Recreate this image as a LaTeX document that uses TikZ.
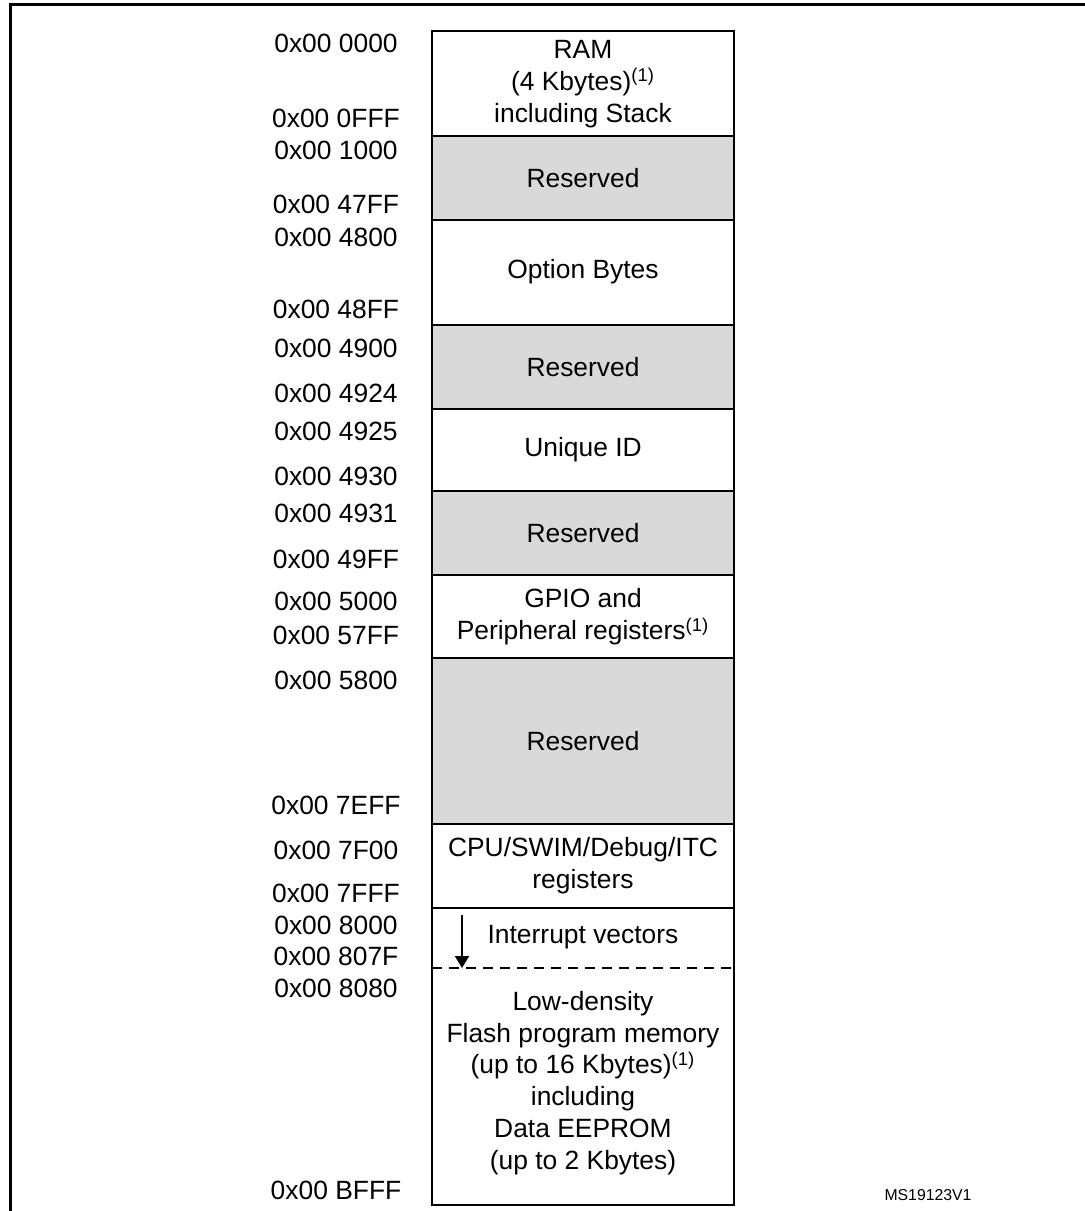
\documentclass[tikz,border=0pt]{standalone}
\usepackage{fontspec}
\setmainfont{Liberation Sans}
\usepackage{xcolor}
\usetikzlibrary{arrows.meta}
\definecolor{resgray}{RGB}{217, 217, 217}

\begin{document}
\begin{tikzpicture}[x=0.5pt, y=-0.5pt,
    blk/.style={draw=black, line width=1pt},
    addr/.style={font=\fontsize{13.2}{15.9}\selectfont, inner sep=0pt},
    lbl/.style={font=\fontsize{13.2}{15.9}\selectfont, align=center, inner sep=0pt}]
                \useasboundingbox (0,0) rectangle (1084,1211);

                % Frame
                \draw[line width=1.5pt] (10,1215) -- (10,4) -- (1088,4);

                % Memory blocks
                \draw[blk] (432,31) rectangle (734,136);
                \draw[blk, fill=resgray] (432,136) rectangle (734,220);
                \draw[blk] (432,220) rectangle (734,325);
                \draw[blk, fill=resgray] (432,325) rectangle (734,409);
                \draw[blk] (432,409) rectangle (734,491);
                \draw[blk, fill=resgray] (432,491) rectangle (734,575);
                \draw[blk] (432,575) rectangle (734,658);
                \draw[blk, fill=resgray] (432,658) rectangle (734,824);
                \draw[blk] (432,824) rectangle (734,908);
                \draw[blk] (432,908) rectangle (734,1205);
                \draw[line width=1pt, dash pattern=on 5pt off 3.5pt] (432,968) -- (734,968);

                % Block labels
                \node[lbl] (ram) at (583,84) {RAM\\(4 Kbytes)\textsuperscript{(1)}\\including Stack};
                \node[lbl] (resa) at (583,178) {Reserved};
                \node[lbl] (optb) at (583,272) {Option Bytes};
                \node[lbl] (resb) at (583,367) {Reserved};
                \node[lbl] (uid) at (583,450) {Unique ID};
                \node[lbl] (resc) at (583,533) {Reserved};
                \node[lbl] (gpio) at (583,617) {GPIO and\\Peripheral registers\textsuperscript{(1)}};
                \node[lbl] (resd) at (583,741) {Reserved};
                \node[lbl] (cpu) at (583,866) {CPU/SWIM/Debug/ITC\\registers};
                \node[lbl] (ivec) at (583,937) {Interrupt vectors};
                \node[lbl] (flash) at (583,1083) {Low-density\\Flash program memory\\(up to 16 Kbytes)\textsuperscript{(1)}\\including\\Data EEPROM\\(up to 2 Kbytes)};

                % Vector arrow
                \coordinate (ivtop) at (462,915);
                \coordinate (ivtip) at (462,968);
                \draw[line width=1pt, -{Triangle[width=7pt, length=6pt]}] (ivtop) -- (ivtip);

                % Addresses
                \node[addr] (a0000) at (336,43) {0x00 0000};
                \node[addr] (a0fff) at (336,118) {0x00 0FFF};
                \node[addr] (a1000) at (336,150) {0x00 1000};
                \node[addr] (a47ff) at (336,204) {0x00 47FF};
                \node[addr] (a4800) at (336,237) {0x00 4800};
                \node[addr] (a48ff) at (336,309) {0x00 48FF};
                \node[addr] (a4900) at (336,348) {0x00 4900};
                \node[addr] (a4924) at (336,393) {0x00 4924};
                \node[addr] (a4925) at (336,431) {0x00 4925};
                \node[addr] (a4930) at (336,476) {0x00 4930};
                \node[addr] (a4931) at (336,513) {0x00 4931};
                \node[addr] (a49ff) at (336,559) {0x00 49FF};
                \node[addr] (a5000) at (336,601) {0x00 5000};
                \node[addr] (a57ff) at (336,635) {0x00 57FF};
                \node[addr] (a5800) at (336,680) {0x00 5800};
                \node[addr] (a7eff) at (336,805) {0x00 7EFF};
                \node[addr] (a7f00) at (336,850) {0x00 7F00};
                \node[addr] (a7fff) at (336,893) {0x00 7FFF};
                \node[addr] (a8000) at (336,925) {0x00 8000};
                \node[addr] (a807f) at (336,956) {0x00 807F};
                \node[addr] (a8080) at (336,988) {0x00 8080};
                \node[addr] (abfff) at (336,1190) {0x00 BFFF};

                % Figure tag
                \node[font=\fontsize{7.9}{9}\selectfont, inner sep=0pt] (tag) at (928,1195) {MS19123V1};
            \end{tikzpicture}
\end{document}
